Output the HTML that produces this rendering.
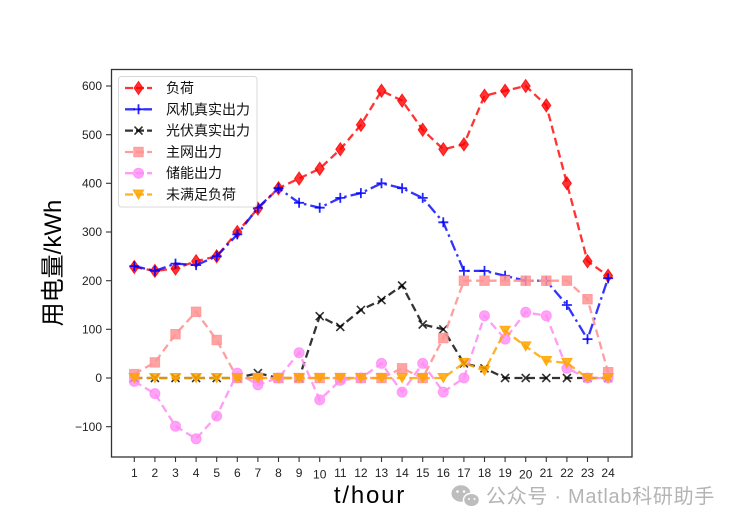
<!DOCTYPE html>
<html><head><meta charset="utf-8"><style>
html,body{margin:0;padding:0;background:#fff;}
svg{display:block;}
text{font-family:"Liberation Sans","Noto Sans CJK SC",sans-serif;}
.cjk{font-family:"Liberation Sans","Noto Sans CJK SC","WenQuanYi Zen Hei",sans-serif;}
</style></head><body>
<svg width="742" height="528" viewBox="0 0 742 528" xmlns="http://www.w3.org/2000/svg">
<defs>
  <marker id="mD" markerUnits="userSpaceOnUse" markerWidth="14" markerHeight="16" refX="7" refY="8" overflow="visible">
    <path d="M7,1.5 L11.5,8 L7,14.5 L2.5,8 Z" fill="#ff0000" fill-opacity="0.8" stroke="#ff0000" stroke-opacity="0.8" stroke-width="1"/>
  </marker>
  <marker id="mP" markerUnits="userSpaceOnUse" markerWidth="14" markerHeight="14" refX="7" refY="7" overflow="visible">
    <path d="M7,2 L7,12 M2,7 L12,7" stroke="#0000ff" stroke-opacity="0.85" stroke-width="1.8" fill="none"/>
  </marker>
  <marker id="mX" markerUnits="userSpaceOnUse" markerWidth="14" markerHeight="14" refX="7" refY="7" overflow="visible">
    <path d="M3,3 L11,11 M11,3 L3,11" stroke="#000" stroke-opacity="0.8" stroke-width="1.6" fill="none"/>
  </marker>
  <marker id="mS" markerUnits="userSpaceOnUse" markerWidth="14" markerHeight="14" refX="7" refY="7" overflow="visible">
    <rect x="2.3" y="2.3" width="9.4" height="9.4" fill="#ff9494" fill-opacity="0.85" stroke="#ff9494" stroke-opacity="0.85" stroke-width="1"/>
  </marker>
  <marker id="mO" markerUnits="userSpaceOnUse" markerWidth="14" markerHeight="14" refX="7" refY="7" overflow="visible">
    <circle cx="7" cy="7" r="5" fill="#ff8cf5" fill-opacity="0.8" stroke="#ff8cf5" stroke-opacity="0.8" stroke-width="1"/>
  </marker>
  <marker id="mV" markerUnits="userSpaceOnUse" markerWidth="14" markerHeight="14" refX="7" refY="7" overflow="visible">
    <path d="M1.8,2.5 L12.2,2.5 L7,11.5 Z" fill="#ffa500" fill-opacity="0.85" stroke="#ffa500" stroke-opacity="0.85" stroke-width="1"/>
  </marker>
</defs>

<rect x="0" y="0" width="742" height="528" fill="#fff"/>

<!-- series -->
<polyline fill="none" stroke="#ff0000" stroke-opacity="0.8" stroke-width="2.3" stroke-dasharray="8,4.5"
 marker-start="url(#mD)" marker-mid="url(#mD)" marker-end="url(#mD)"
 points="134.3,267.0 154.9,270.9 175.5,268.5 196.1,261.2 216.7,256.3 237.3,232.0 257.9,208.6 278.5,188.2 299.1,178.5 319.7,168.7 340.3,149.3 360.9,124.9 381.5,90.8 402.1,100.6 422.7,129.8 443.3,149.3 463.9,144.4 484.5,95.7 505.1,90.8 525.7,86.0 546.3,105.4 566.9,183.3 587.5,261.2 608.1,275.8"/>

<polyline fill="none" stroke="#0000ff" stroke-opacity="0.8" stroke-width="2.3" stroke-dasharray="11,4,2.5,4"
 marker-start="url(#mP)" marker-mid="url(#mP)" marker-end="url(#mP)"
 points="134.3,266.1 154.9,270.9 175.5,263.6 196.1,265.1 216.7,256.3 237.3,234.4 257.9,207.7 278.5,188.2 299.1,202.8 319.7,207.7 340.3,197.9 360.9,193.1 381.5,183.3 402.1,188.2 422.7,197.9 443.3,222.3 463.9,270.9 484.5,270.9 505.1,275.8 525.7,280.7 546.3,280.7 566.9,305.0 587.5,339.1 608.1,278.2"/>

<polyline fill="none" stroke="#000000" stroke-opacity="0.8" stroke-width="2.3" stroke-dasharray="8,4.5"
 marker-start="url(#mX)" marker-mid="url(#mX)" marker-end="url(#mX)"
 points="134.3,378 154.9,378 175.5,378 196.1,378 216.7,378 237.3,378 257.9,373.1 278.5,378 299.1,378 319.7,316.2 340.3,326.9 360.9,309.9 381.5,300.1 402.1,285.5 422.7,324.5 443.3,329.3 463.9,363.4 484.5,368.3 505.1,378 525.7,378 546.3,378 566.9,378 587.5,378 608.1,378"/>

<polyline fill="none" stroke="#ff9494" stroke-opacity="0.9" stroke-width="2.3" stroke-dasharray="8,4.5"
 marker-start="url(#mS)" marker-mid="url(#mS)" marker-end="url(#mS)"
 points="134.3,374.1 154.9,362.4 175.5,334.2 196.1,311.8 216.7,340.0 237.3,378 257.9,378 278.5,378 299.1,378 319.7,378 340.3,378 360.9,378 381.5,378 402.1,368.3 422.7,378 443.3,338.1 463.9,280.7 484.5,280.7 505.1,280.7 525.7,280.7 546.3,280.7 566.9,280.7 587.5,299.2 608.1,372.2"/>

<polyline fill="none" stroke="#ff8cf5" stroke-opacity="0.85" stroke-width="2.3" stroke-dasharray="8,4.5"
 marker-start="url(#mO)" marker-mid="url(#mO)" marker-end="url(#mO)"
 points="134.3,381.4 154.9,393.6 175.5,426.2 196.1,438.8 216.7,416.0 237.3,373.1 257.9,384.8 278.5,378 299.1,352.7 319.7,399.9 340.3,380.4 360.9,378 381.5,363.4 402.1,392.1 422.7,363.4 443.3,392.1 463.9,378 484.5,315.7 505.1,339.1 525.7,312.3 546.3,315.7 566.9,368.3 587.5,378 608.1,378"/>

<polyline fill="none" stroke="#ffa500" stroke-opacity="0.85" stroke-width="2.3" stroke-dasharray="8,4.5"
 marker-start="url(#mV)" marker-mid="url(#mV)" marker-end="url(#mV)"
 points="134.3,378 154.9,378 175.5,378 196.1,378 216.7,378 237.3,378 257.9,378 278.5,378 299.1,378 319.7,378 340.3,378 360.9,378 381.5,378 402.1,378 422.7,378 443.3,378 463.9,362.9 484.5,370.7 505.1,330.8 525.7,346.4 546.3,361.0 566.9,362.9 587.5,378 608.1,378"/>

<!-- axes frame -->
<rect x="111.5" y="69.5" width="520.5" height="387.5" fill="none" stroke="#333" stroke-width="1.3"/>

<!-- y ticks -->
<g stroke="#333" stroke-width="1.1">
  <line x1="106" y1="86" x2="111" y2="86"/>
  <line x1="106" y1="134.7" x2="111" y2="134.7"/>
  <line x1="106" y1="183.3" x2="111" y2="183.3"/>
  <line x1="106" y1="232" x2="111" y2="232"/>
  <line x1="106" y1="280.7" x2="111" y2="280.7"/>
  <line x1="106" y1="329.3" x2="111" y2="329.3"/>
  <line x1="106" y1="378" x2="111" y2="378"/>
  <line x1="106" y1="426.7" x2="111" y2="426.7"/>
</g>
<g font-size="12" fill="#222" text-anchor="end">
  <text x="102" y="90.2">600</text>
  <text x="102" y="138.9">500</text>
  <text x="102" y="187.5">400</text>
  <text x="102" y="236.2">300</text>
  <text x="102" y="284.9">200</text>
  <text x="102" y="333.5">100</text>
  <text x="102" y="382.2">0</text>
  <text x="102" y="430.9">−100</text>
</g>

<!-- x ticks -->
<g stroke="#333" stroke-width="1.1">
  <line x1="134.3" y1="457" x2="134.3" y2="462"/><line x1="154.9" y1="457" x2="154.9" y2="462"/>
  <line x1="175.5" y1="457" x2="175.5" y2="462"/><line x1="196.1" y1="457" x2="196.1" y2="462"/>
  <line x1="216.7" y1="457" x2="216.7" y2="462"/><line x1="237.3" y1="457" x2="237.3" y2="462"/>
  <line x1="257.9" y1="457" x2="257.9" y2="462"/><line x1="278.5" y1="457" x2="278.5" y2="462"/>
  <line x1="299.1" y1="457" x2="299.1" y2="462"/><line x1="319.7" y1="457" x2="319.7" y2="462"/>
  <line x1="340.3" y1="457" x2="340.3" y2="462"/><line x1="360.9" y1="457" x2="360.9" y2="462"/>
  <line x1="381.5" y1="457" x2="381.5" y2="462"/><line x1="402.1" y1="457" x2="402.1" y2="462"/>
  <line x1="422.7" y1="457" x2="422.7" y2="462"/><line x1="443.3" y1="457" x2="443.3" y2="462"/>
  <line x1="463.9" y1="457" x2="463.9" y2="462"/><line x1="484.5" y1="457" x2="484.5" y2="462"/>
  <line x1="505.1" y1="457" x2="505.1" y2="462"/><line x1="525.7" y1="457" x2="525.7" y2="462"/>
  <line x1="546.3" y1="457" x2="546.3" y2="462"/><line x1="566.9" y1="457" x2="566.9" y2="462"/>
  <line x1="587.5" y1="457" x2="587.5" y2="462"/><line x1="608.1" y1="457" x2="608.1" y2="462"/>
</g>
<g font-size="12" fill="#222" text-anchor="middle">
  <text x="134.3" y="477">1</text><text x="154.9" y="477">2</text><text x="175.5" y="477">3</text>
  <text x="196.1" y="477">4</text><text x="216.7" y="477">5</text><text x="237.3" y="477">6</text>
  <text x="257.9" y="477">7</text><text x="278.5" y="477">8</text><text x="299.1" y="477">9</text>
  <text x="319.7" y="478.5">10</text><text x="340.3" y="477">11</text><text x="360.9" y="477">12</text>
  <text x="381.5" y="477">13</text><text x="402.1" y="477">14</text><text x="422.7" y="477">15</text>
  <text x="443.3" y="477">16</text><text x="463.9" y="477">17</text><text x="484.5" y="477">18</text>
  <text x="505.1" y="477">19</text><text x="525.7" y="478.5">20</text><text x="546.3" y="477">21</text>
  <text x="566.9" y="477">22</text><text x="587.5" y="477">23</text><text x="608.1" y="477">24</text>
</g>

<!-- axis labels -->
<text x="370" y="503" font-size="24" fill="#000" text-anchor="middle" letter-spacing="1.8">t/hour</text>
<text class="cjk" transform="translate(61,263) rotate(-90)" font-size="24" fill="#000" text-anchor="middle">用电量/kWh</text>

<!-- legend -->
<rect x="118.5" y="76.5" width="138.5" height="130.5" rx="3" ry="3" fill="#fff" fill-opacity="0.85" stroke="#d8d8d8" stroke-width="1"/>
<g stroke-width="2.3">
  <line x1="125" y1="88" x2="152" y2="88" stroke="#ff0000" stroke-opacity="0.8" stroke-dasharray="8,3"/>
  <line x1="125" y1="109.3" x2="152" y2="109.3" stroke="#0000ff" stroke-opacity="0.8" stroke-dasharray="10,3,2.5,3"/>
  <line x1="125" y1="130.6" x2="152" y2="130.6" stroke="#000" stroke-opacity="0.8" stroke-dasharray="8,3"/>
  <line x1="125" y1="152" x2="152" y2="152" stroke="#ff9494" stroke-opacity="0.9" stroke-dasharray="8,3"/>
  <line x1="125" y1="173.2" x2="152" y2="173.2" stroke="#ff8cf5" stroke-opacity="0.85" stroke-dasharray="8,3"/>
  <line x1="125" y1="194.5" x2="152" y2="194.5" stroke="#ffa500" stroke-opacity="0.85" stroke-dasharray="8,3"/>
</g>
<!-- legend markers -->
<path d="M138.5,81.5 L143,88 L138.5,94.5 L134,88 Z" fill="#ff0000" fill-opacity="0.8" stroke="#ff0000" stroke-opacity="0.8" stroke-width="1"/>
<path d="M138.5,104.3 L138.5,114.3 M133.5,109.3 L143.5,109.3" stroke="#0000ff" stroke-opacity="0.85" stroke-width="1.8" fill="none"/>
<path d="M134.5,126.6 L142.5,134.6 M142.5,126.6 L134.5,134.6" stroke="#000" stroke-opacity="0.8" stroke-width="1.6" fill="none"/>
<rect x="133.8" y="147.3" width="9.4" height="9.4" fill="#ff9494" fill-opacity="0.85" stroke="#ff9494" stroke-opacity="0.85" stroke-width="1"/>
<circle cx="138.5" cy="173.2" r="5" fill="#ff8cf5" fill-opacity="0.8" stroke="#ff8cf5" stroke-opacity="0.8" stroke-width="1"/>
<path d="M133.3,190 L143.7,190 L138.5,199 Z" fill="#ffa500" fill-opacity="0.85" stroke="#ffa500" stroke-opacity="0.85" stroke-width="1"/>
<g class="cjk" font-size="14" fill="#111">
  <text x="166" y="93">负荷</text>
  <text x="166" y="114.3">风机真实出力</text>
  <text x="166" y="135.6">光伏真实出力</text>
  <text x="166" y="157">主网出力</text>
  <text x="166" y="178.2">储能出力</text>
  <text x="166" y="199.5">未满足负荷</text>
</g>

<!-- watermark -->
<g>
  <ellipse cx="461" cy="493.5" rx="9.5" ry="8.2" fill="#bdbdbd"/>
  <ellipse cx="471.5" cy="500" rx="8" ry="6.8" fill="#bdbdbd" stroke="#fff" stroke-width="1.5"/>
  <circle cx="457.5" cy="491.5" r="1.3" fill="#fff"/>
  <circle cx="464" cy="491.5" r="1.3" fill="#fff"/>
  <circle cx="469" cy="499" r="1" fill="#fff"/>
  <circle cx="474.5" cy="499" r="1" fill="#fff"/>
</g>
<text class="cjk" x="486" y="503" font-size="20" fill="#b4b4b4" letter-spacing="0.7">公众号 · Matlab科研助手</text>
</svg>
</body></html>
